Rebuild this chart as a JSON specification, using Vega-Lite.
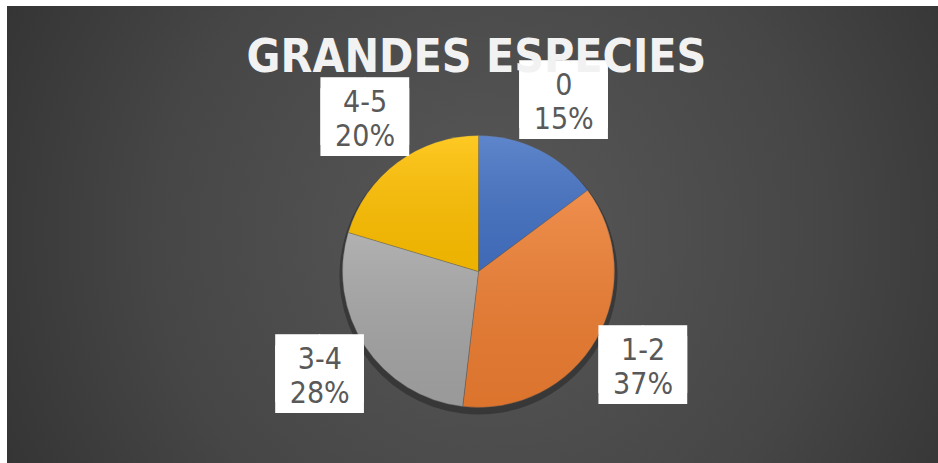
{
  "$schema": "https://vega.github.io/schema/vega-lite/v6.json",
  "autosize": {"type": "fit", "contains": "padding"},
  "width": 938,
  "height": 463,
  "padding": {"left": 7, "top": 6, "right": 0, "bottom": 0},
  "background": "#ffffff",
  "view": {
    "stroke": null,
    "fill": {
      "gradient": "radial",
      "x1": 0.52, "y1": 0.5, "r1": 0,
      "x2": 0.52, "y2": 0.5, "r2": 0.72,
      "stops": [
        {"offset": 0, "color": "#585858"},
        {"offset": 0.5, "color": "#464646"},
        {"offset": 1, "color": "#292929"}
      ]
    }
  },
  "title": {
    "text": "GRANDES ESPECIES",
    "font": "DejaVu Sans Condensed",
    "fontWeight": "bold",
    "fontSize": 46,
    "color": "#f2f2f2",
    "anchor": "middle",
    "frame": "group",
    "baseline": "alphabetic",
    "offset": -112,
    "dx": 4
  },
  "data": {
    "values": [
      {"cat": "0", "n": 8, "pct": "15%"},
      {"cat": "1-2", "n": 20, "pct": "37%"},
      {"cat": "3-4", "n": 15, "pct": "28%"},
      {"cat": "4-5", "n": 11, "pct": "20%"}
    ]
  },
  "encoding": {
    "theta": {"field": "n", "type": "quantitative", "stack": true},
    "detail": {"field": "cat", "type": "nominal"},
    "order": {"field": "cat", "type": "nominal", "sort": "ascending"}
  },
  "layer": [
    {
      "mark": {"type": "arc", "outerRadius": 139, "fill": "#1c1c1c", "opacity": 0.45, "xOffset": 6, "yOffset": 41, "stroke": null}
    },
    {
      "mark": {"type": "arc", "outerRadius": 136, "xOffset": 6, "yOffset": 37, "stroke": "#555555", "strokeWidth": 0.4},
      "encoding": {
        "color": {
          "field": "cat", "type": "nominal", "legend": null,
          "scale": {"domain": ["0", "1-2", "3-4", "4-5"], "range": ["#4472C4", "#ED7D31", "#A5A5A5", "#FFC000"]}
        }
      }
    },
    {
      "mark": {
        "type": "arc", "outerRadius": 136, "xOffset": 6, "yOffset": 37, "stroke": null,
        "fill": {
          "gradient": "linear", "x1": 0, "y1": 0, "x2": 0, "y2": 1,
          "stops": [
            {"offset": 0, "color": "rgba(255,255,255,0.14)"},
            {"offset": 1, "color": "rgba(0,0,0,0.07)"}
          ]
        }
      }
    },
    {
      "mark": {"type": "text", "radius": 190, "xOffset": 6, "yOffset": 37, "dy": -5, "font": "DejaVu Sans", "fontSize": 57, "color": "#ffffff", "baseline": "middle", "align": "center"},
      "encoding": {"text": {"value": "██"}}
    },
    {
      "mark": {"type": "text", "radius": 190, "xOffset": 6, "yOffset": 37, "dy": 6, "font": "DejaVu Sans", "fontSize": 57, "color": "#ffffff", "baseline": "middle", "align": "center"},
      "encoding": {"text": {"value": "██"}}
    },
    {
      "mark": {"type": "text", "radius": 190, "xOffset": 6, "yOffset": 37, "dy": -16, "font": "DejaVu Sans Condensed", "fontSize": 30, "color": "#595959", "baseline": "middle", "align": "center"},
      "encoding": {"text": {"field": "cat", "type": "nominal"}}
    },
    {
      "mark": {"type": "text", "radius": 190, "xOffset": 6, "yOffset": 37, "dy": 18, "font": "DejaVu Sans Condensed", "fontSize": 30, "color": "#595959", "baseline": "middle", "align": "center"},
      "encoding": {"text": {"field": "pct", "type": "nominal"}}
    }
  ]
}
